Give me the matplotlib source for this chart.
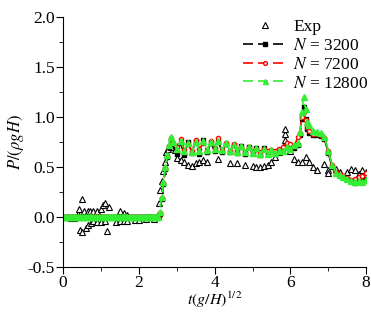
import matplotlib
matplotlib.use("Agg")
import matplotlib.pyplot as plt
from matplotlib.ticker import MultipleLocator

plt.rcParams['font.family'] = ['Liberation Serif', 'DejaVu Serif']
plt.rcParams['mathtext.fontset'] = 'stix'

# experiment (open triangles)
t_exp = [0.1, 0.2, 0.3, 0.4, 0.42, 0.45, 0.5, 0.5, 0.55, 0.6, 0.65, 0.65, 0.7, 0.75,
         0.8, 0.8, 0.9, 0.9, 1.0, 1.0, 1.05, 1.1, 1.1, 1.15, 1.2, 1.4, 1.5, 1.5,
         1.6, 1.6, 1.7, 1.7, 1.8, 1.9, 1.9, 2.0, 2.0, 2.1, 2.2, 2.2, 2.3, 2.4,
         2.5, 2.52, 2.56, 2.6, 2.65, 2.7, 2.72, 2.76, 2.85, 2.95, 3.0, 3.1, 3.2,
         3.3, 3.4, 3.5, 3.6, 3.7, 3.8, 4.1, 4.4, 4.6, 4.8, 5.0, 5.1, 5.2, 5.3,
         5.4, 5.5, 5.6, 5.7, 5.8, 5.85, 5.85, 5.87, 5.9, 6.0, 6.1, 6.2, 6.3, 6.4,
         6.5, 6.6, 6.7, 6.9, 7.0, 7.0, 7.2, 7.3, 7.5, 7.6, 7.7, 7.8, 7.9, 8.0]
p_exp = [0.0, -0.01, -0.01, 0.03, 0.08, -0.13, 0.18, -0.15, 0.06, -0.11, 0.06, -0.08, 0.06, -0.06,
         0.06, -0.04, 0.06, -0.05, 0.08, -0.05, 0.12, 0.14, -0.04, -0.14, 0.1, -0.05, 0.06, -0.04,
         0.04, -0.04, 0.02, -0.04, 0.0, -0.03, 0.0, 0.0, -0.03, 0.0, -0.02, 0.0, 0.0, -0.02,
         0.02, 0.14, 0.27, 0.36, 0.46, 0.55, 0.65, 0.68, 0.7, 0.67, 0.59, 0.57, 0.55,
         0.52, 0.51, 0.54, 0.55, 0.57, 0.55, 0.58, 0.54, 0.54, 0.52, 0.51, 0.5, 0.5, 0.51,
         0.52, 0.55, 0.6, 0.65, 0.7, 0.77, 0.83, 0.88, 0.72, 0.66, 0.58, 0.55, 0.55, 0.6,
         0.55, 0.5, 0.47, 0.53, 0.47, 0.44, 0.48, 0.45, 0.45, 0.48, 0.47, 0.43, 0.47, 0.45]

# simulations
t_flat = [0.0, 0.05, 0.1, 0.15, 0.2, 0.25, 0.3, 0.35, 0.4, 0.45, 0.5, 0.55, 0.6, 0.65,
          0.7, 0.75, 0.8, 0.85, 0.9, 0.95, 1.0, 1.05, 1.1, 1.15, 1.2, 1.25, 1.3, 1.35,
          1.4, 1.45, 1.5, 1.55, 1.6, 1.65, 1.7, 1.75, 1.8, 1.85, 1.9, 1.95, 2.0, 2.05,
          2.1, 2.15, 2.2, 2.25, 2.3, 2.35, 2.4, 2.45, 2.5]
t_wet = [2.55, 2.6, 2.65, 2.7, 2.75, 2.8, 2.85, 2.9,
         3.0, 3.1, 3.2, 3.3, 3.4, 3.5, 3.6, 3.7, 3.8, 3.9, 4.0, 4.1, 4.2, 4.3, 4.4,
         4.5, 4.6, 4.7, 4.8, 4.9, 5.0, 5.1, 5.2, 5.3, 5.4, 5.5, 5.6, 5.7, 5.8, 5.9,
         6.0, 6.1, 6.2,
         6.25, 6.3, 6.35, 6.4, 6.45,
         6.5, 6.6, 6.7, 6.8, 6.9, 7.0, 7.1, 7.2, 7.3, 7.4, 7.5, 7.6, 7.7, 7.8, 7.9, 8.0]
t_sim = t_flat + t_wet
zeros = [0.0] * len(t_flat)
p_3200 = zeros + [0.03, 0.18, 0.33, 0.48, 0.6, 0.7, 0.76, 0.72,
                  0.63, 0.74, 0.62, 0.75, 0.64, 0.76, 0.63, 0.77, 0.65, 0.74, 0.66, 0.75, 0.65,
                  0.73, 0.65, 0.72, 0.64, 0.71, 0.63, 0.7, 0.64, 0.69, 0.62, 0.69, 0.63, 0.66,
                  0.65, 0.67, 0.67, 0.7, 0.7, 0.69, 0.72,
                  0.82, 0.98, 1.1, 0.98, 0.88,
                  0.84, 0.82, 0.82, 0.81, 0.78, 0.64, 0.5, 0.44, 0.42, 0.4, 0.38, 0.36, 0.34, 0.36, 0.37, 0.38]
p_7200 = zeros + [0.04, 0.19, 0.34, 0.49, 0.61, 0.71, 0.79, 0.74,
                  0.7, 0.78, 0.67, 0.73, 0.66, 0.77, 0.68, 0.74, 0.66, 0.76, 0.69, 0.79, 0.67,
                  0.74, 0.66, 0.73, 0.67, 0.7, 0.65, 0.7, 0.66, 0.68, 0.65, 0.68, 0.66, 0.67,
                  0.66, 0.68, 0.7, 0.74, 0.73, 0.71, 0.8,
                  0.84, 1.0, 1.05, 0.97, 0.9,
                  0.86, 0.83, 0.83, 0.82, 0.79, 0.66, 0.52, 0.45, 0.43, 0.41, 0.39, 0.37, 0.38, 0.4, 0.41, 0.44]
p_12800 = zeros + [0.05, 0.2, 0.35, 0.5, 0.62, 0.72, 0.8, 0.75,
                   0.68, 0.76, 0.66, 0.74, 0.65, 0.75, 0.66, 0.76, 0.67, 0.75, 0.68, 0.76, 0.67,
                   0.74, 0.66, 0.72, 0.65, 0.71, 0.65, 0.7, 0.64, 0.69, 0.63, 0.68, 0.63, 0.67,
                   0.64, 0.66, 0.66, 0.7, 0.68, 0.72, 0.74,
                   0.85, 1.05, 1.2, 1.08, 0.95,
                   0.92, 0.86, 0.85, 0.84, 0.8, 0.66, 0.52, 0.44, 0.42, 0.4, 0.38, 0.36, 0.35, 0.36, 0.35, 0.37]

fig = plt.figure(figsize=(3.71, 3.12), dpi=100)
ax = fig.add_axes([0.17, 0.145, 0.817, 0.8])

ax.plot(t_exp, p_exp, linestyle='none', marker='^', markersize=5, markerfacecolor='white',
        markeredgecolor='black', markeredgewidth=0.8, label='Exp')
ax.plot(t_sim, p_3200, color='black', linestyle=(0, (6, 3)), linewidth=1.2,
        marker='s', markersize=3, label='$N$ = 3200')
ax.plot(t_sim, p_7200, color='red', linestyle=(0, (6, 3)), linewidth=1.2,
        marker='o', markersize=3, markerfacecolor='white', markeredgecolor='red', label='$N$ = 7200')
ax.plot(t_sim, p_12800, color='#33ee33', linestyle=(0, (6, 3)), linewidth=1.2,
        marker='^', markersize=4, label='$N$ = 12800')

ax.set_xlim(0, 8)
ax.set_ylim(-0.5, 2.0)
ax.xaxis.set_major_locator(MultipleLocator(2))
ax.xaxis.set_minor_locator(MultipleLocator(1))
ax.yaxis.set_major_locator(MultipleLocator(0.5))
ax.yaxis.set_minor_locator(MultipleLocator(0.25))
ax.yaxis.set_major_formatter(plt.FormatStrFormatter('%.1f'))
ax.tick_params(which='major', direction='out', length=5, labelsize=12.5, pad=1)
ax.tick_params(which='minor', direction='out', length=3)
ax.spines['top'].set_visible(False)
ax.spines['right'].set_visible(False)

ax.set_xlabel(r'$t(g/H)^{1/2}$', fontsize=11.5, va='bottom')
ax.xaxis.set_label_coords(0.5, -0.173)
ax.set_ylabel(r'$P/(\rho gH)$', fontsize=12, labelpad=1)

ax.legend(loc='upper right', frameon=False, fontsize=12.5, handlelength=2.6, numpoints=1,
          borderaxespad=0.0, labelspacing=0.15, handletextpad=0.3, markerscale=0.9,
          bbox_to_anchor=(1.03, 1.02))

fig.savefig('out.png', dpi=100)
